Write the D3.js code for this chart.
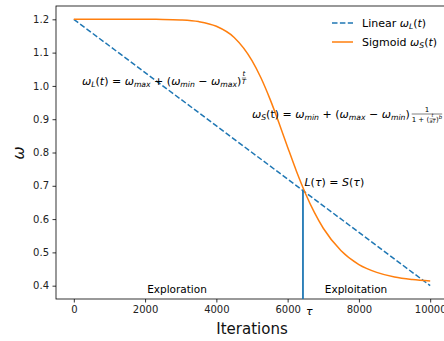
<!DOCTYPE html>
<html><head><meta charset="utf-8">
<script src="https://cdn.jsdelivr.net/npm/d3@7"></script>
<style>body{margin:0;background:#fff}svg{display:block}text{font-family:"DejaVu Sans",sans-serif}</style>
</head><body><svg id="c" width="444" height="341"></svg>
<script>
// ---- data ----
const xTicks = [0, 2000, 4000, 6000, 8000, 10000];
const yTicks = [0.4, 0.5, 0.6, 0.7, 0.8, 0.9, 1.0, 1.1, 1.2];
const linearIter = [0, 10000];
const linearVal = [1.2, 0.4];
const sigIter = [0, 500, 1000, 1500, 2000, 2500, 3000, 3500, 4000, 4500, 5000, 5250, 5500, 5750, 6000, 6250, 6500, 6750, 7000, 7500, 8000, 8500, 9000, 9500, 10000];
const sigVal  = [1.2, 1.2, 1.2, 1.2, 1.2, 1.1997, 1.1982, 1.1932, 1.1790, 1.1455, 1.076, 1.0245, 0.9618, 0.891, 0.816, 0.743, 0.677, 0.620, 0.5725, 0.505, 0.4635, 0.4400, 0.4260, 0.4185, 0.4140];
const tau = 6430;
const tauVal = 0.686;

const svg = d3.select("#c");
const L = 56, R = 448, T = 6, B = 299;
const x = d3.scaleLinear().domain([-500, 10500]).range([L, R]);
const y = d3.scaleLinear().domain([0.36, 1.24]).range([B, T]);

// axes
const xa = svg.append("g").attr("transform", `translate(0,${B})`)
  .call(d3.axisBottom(x).tickValues(xTicks).tickSize(3.5).tickPadding(3.5).tickFormat(d3.format("d")));
const ya = svg.append("g").attr("transform", `translate(${L},0)`)
  .call(d3.axisLeft(y).tickValues(yTicks).tickSize(3.5).tickPadding(3.5).tickFormat(d3.format(".1f")));
[xa, ya].forEach(g => {
  g.select(".domain").remove();
  g.selectAll("line").attr("stroke", "#000").attr("stroke-width", 0.8);
  g.selectAll("text").attr("font-size", 10).attr("fill", "#222").attr("font-family", "DejaVu Sans");
});
// spines
svg.append("rect").attr("x", L).attr("y", T).attr("width", R - L).attr("height", B - T)
  .attr("fill", "none").attr("stroke", "#000").attr("stroke-width", 0.8);

// lines
const linData = linearIter.map((d, i) => [d, linearVal[i]]);
const sigData = sigIter.map((d, i) => [d, sigVal[i]]);
const line = d3.line().x(d => x(d[0])).y(d => y(d[1]));
svg.append("path").datum(linData).attr("d", line).attr("fill", "none")
  .attr("stroke", "#1f77b4").attr("stroke-width", 1.5).attr("stroke-dasharray", "5.5,2.4");
svg.append("path").datum(sigData).attr("d", line.curve(d3.curveMonotoneX)).attr("fill", "none")
  .attr("stroke", "#ff7f0e").attr("stroke-width", 1.5);
// tau line
svg.append("line").attr("x1", x(tau)).attr("x2", x(tau)).attr("y1", y(tauVal)).attr("y2", B)
  .attr("stroke", "#1f77b4").attr("stroke-width", 1.8);

// math text helper
function mtext(parent, x0, yb, segs, fs) {
  const t = parent.append("text").attr("x", x0).attr("y", yb).attr("font-size", fs).attr("fill", "#000");
  let cur = 0;
  segs.forEach(s => {
    const sh = s.sh || 0;
    const sp = t.append("tspan").text(s.t).attr("dy", sh - cur);
    cur = sh;
    if (s.i) sp.attr("font-style", "italic");
    if (s.s) sp.attr("font-size", fs * s.s);
  });
  return t;
}
function frac(parent, cx, ymid, num, den, fs, lw) {
  const g = parent.append("g");
  const n = mtext(g, 0, ymid - 2, num, fs);
  const d = mtext(g, 0, ymid + fs * 0.85, den, fs);
  const wn = n.node().getComputedTextLength(), wd = d.node().getComputedTextLength();
  const w = Math.max(wn, wd);
  n.attr("x", cx + (w - wn) / 2); d.attr("x", cx + (w - wd) / 2);
  g.append("line").attr("x1", cx).attr("x2", cx + w).attr("y1", ymid).attr("y2", ymid)
    .attr("stroke", "#000").attr("stroke-width", lw || 0.6);
  return w;
}

// formula 1
const f1 = mtext(svg, 82, 85, [
  {t: "ω", i: 1}, {t: "L", i: 1, s: 0.7, sh: 2}, {t: "(", sh: 0}, {t: "t", i: 1}, {t: ") = "},
  {t: "ω", i: 1}, {t: "max", i: 1, s: 0.7, sh: 2}, {t: " + (", sh: 0}, {t: "ω", i: 1}, {t: "min", i: 1, s: 0.7, sh: 2},
  {t: " − ", sh: 0}, {t: "ω", i: 1}, {t: "max", i: 1, s: 0.7, sh: 2}, {t: ")", sh: 0}
], 11);
const w1 = f1.node().getComputedTextLength();
frac(svg, 82 + w1 + 0.5, 78, [{t: "t", i: 1}], [{t: "T", i: 1}], 7, 0.5);

// formula 2
const f2 = mtext(svg, 252, 118, [
  {t: "ω", i: 1}, {t: "S", i: 1, s: 0.7, sh: 2}, {t: "(", sh: 0}, {t: "t"}, {t: ") = "},
  {t: "ω", i: 1}, {t: "min", i: 1, s: 0.7, sh: 2}, {t: " + (", sh: 0}, {t: "ω", i: 1}, {t: "max", i: 1, s: 0.7, sh: 2},
  {t: " − ", sh: 0}, {t: "ω", i: 1}, {t: "min", i: 1, s: 0.7, sh: 2}, {t: ")", sh: 0}
], 11);
const w2 = f2.node().getComputedTextLength();
(function () {
  const cx = 252 + w2 + 2, ym = 114, fs = 7;
  const g = svg.append("g");
  const num = g.append("text").attr("y", ym - 2).attr("font-size", fs).text("1");
  const den = mtext(g, cx, ym + 7.5, [{t: "1 + ("}], fs);
  const wDen0 = den.node().getComputedTextLength();
  const wIn = frac(g, cx + wDen0 + 0.3, ym + 4.8, [{t: "t", i: 1}], [{t: "aT", i: 1}], 5, 0.4);
  const close = mtext(g, cx + wDen0 + wIn + 0.8, ym + 7.5, [{t: ")"}, {t: "b", i: 1, s: 0.75, sh: -3}], fs);
  const wTot = wDen0 + wIn + 0.8 + close.node().getComputedTextLength();
  const wn = num.node().getComputedTextLength();
  num.attr("x", cx + (wTot - wn) / 2);
  g.append("line").attr("x1", cx).attr("x2", cx + wTot).attr("y1", ym).attr("y2", ym).attr("stroke", "#000").attr("stroke-width", 0.5);
})();

// L(tau) = S(tau)
mtext(svg, x(tau) + 1.5, 186, [{t: "L", i: 1}, {t: "("}, {t: "τ", i: 1}, {t: ") = "}, {t: "S", i: 1}, {t: "("}, {t: "τ", i: 1}, {t: ")"}], 11);
// tau tick label
svg.append("text").attr("x", x(tau) + 3).attr("y", 315).attr("font-size", 11).attr("font-style", "italic")
  .attr("font-family", "DejaVu Serif").text("τ");

// region labels
svg.append("text").attr("x", 177).attr("y", 293).attr("text-anchor", "middle").attr("font-size", 10.5).text("Exploration");
svg.append("text").attr("x", 356).attr("y", 293).attr("text-anchor", "middle").attr("font-size", 10.5).text("Exploitation");

// axis labels
svg.append("text").attr("x", 252).attr("y", 334).attr("text-anchor", "middle").attr("font-size", 15).attr("fill", "#111").text("Iterations");
svg.append("text").attr("transform", "translate(24,153) rotate(-90)").attr("text-anchor", "middle")
  .attr("font-size", 16).attr("font-style", "italic").attr("fill", "#111").text("ω");

// legend
const lg = svg.append("g");
lg.append("line").attr("x1", 332).attr("x2", 353).attr("y1", 23).attr("y2", 23)
  .attr("stroke", "#1f77b4").attr("stroke-width", 1.5).attr("stroke-dasharray", "5.5,2.4");
lg.append("line").attr("x1", 332).attr("x2", 353).attr("y1", 42).attr("y2", 42)
  .attr("stroke", "#ff7f0e").attr("stroke-width", 1.5);
mtext(lg, 362, 27, [{t: "Linear "}, {t: "ω", i: 1}, {t: "L", i: 1, s: 0.7, sh: 2}, {t: "(", sh: 0}, {t: "t", i: 1}, {t: ")"}], 11);
mtext(lg, 362, 46, [{t: "Sigmoid "}, {t: "ω", i: 1}, {t: "S", i: 1, s: 0.7, sh: 2}, {t: "(", sh: 0}, {t: "t", i: 1}, {t: ")"}], 11);
</script></body></html>
